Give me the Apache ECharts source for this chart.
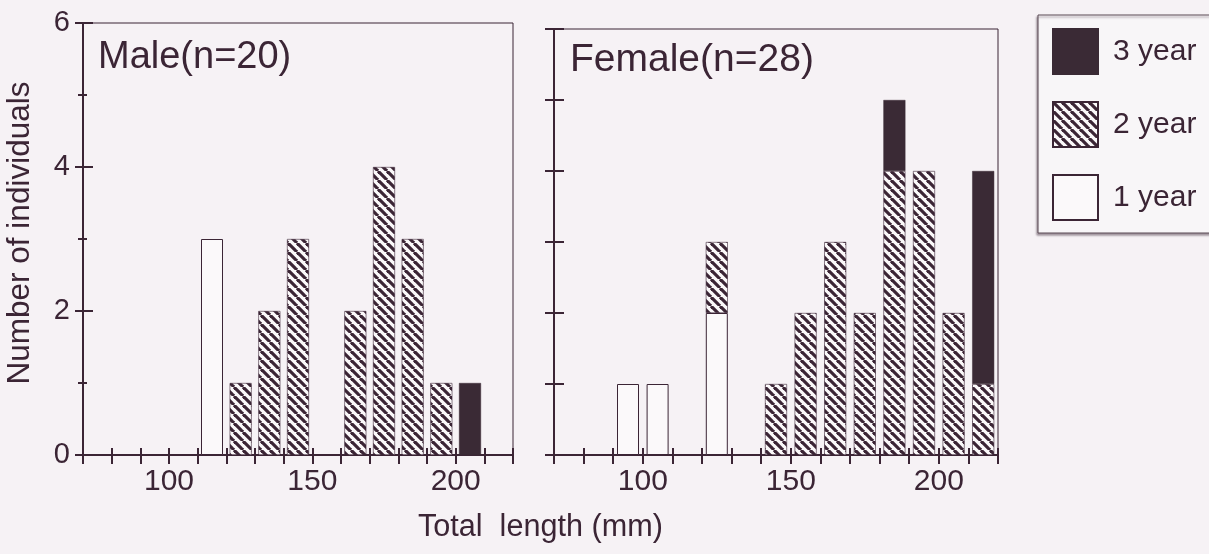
<!DOCTYPE html>
<html><head><meta charset="utf-8">
<script src="https://cdn.jsdelivr.net/npm/echarts@6/dist/echarts.min.js"></script>
<style>html,body{margin:0;padding:0;background:#f6f2f5}#c{width:1209px;height:554px}</style>
</head><body><div id="c"></div>
<script>
// ---- data ----
const binStarts = [70, 80, 90, 100, 110, 120, 130, 140, 150, 160, 170, 180, 190, 200, 210];
const binWidth = 10;
const xTickLabels = [100, 150, 200];
const yTickLabels = [0, 2, 4, 6];
const seriesNames = ['1 year', '2 year', '3 year'];
const legendOrder = ['3 year', '2 year', '1 year'];
const male1 = [0, 0, 0, 0, 3, 0, 0, 0, 0, 0, 0, 0, 0, 0, 0];
const male2 = [0, 0, 0, 0, 0, 1, 2, 3, 0, 2, 4, 3, 1, 0, 0];
const male3 = [0, 0, 0, 0, 0, 0, 0, 0, 0, 0, 0, 0, 0, 1, 0];
const female1 = [0, 0, 1, 1, 0, 2, 0, 0, 0, 0, 0, 0, 0, 0, 0];
const female2 = [0, 0, 0, 0, 0, 1, 0, 1, 2, 3, 2, 4, 4, 2, 1];
const female3 = [0, 0, 0, 0, 0, 0, 0, 0, 0, 0, 0, 1, 0, 0, 3];
const panelTitles = ['Male(n=20)', 'Female(n=28)'];
const xName = 'Total  length (mm)';
const yName = 'Number of individuals';

// ---- styles ----
const INK = '#3b2535';
const BG = '#f6f2f5';
const FONT = 'Liberation Sans, Arial, sans-serif';

function makeHatch() {
  const p = 9;
  const c = document.createElement('canvas');
  c.width = p; c.height = p;
  const ctx = c.getContext('2d');
  ctx.fillStyle = '#fbf9fa';
  ctx.fillRect(0, 0, p, p);
  ctx.strokeStyle = INK;
  ctx.lineWidth = 3.2;
  for (const x0 of [-p, 0, p]) {
    ctx.beginPath();
    ctx.moveTo(x0, 0);
    ctx.lineTo(x0 + p, p);
    ctx.stroke();
  }
  return c;
}
const hatch = makeHatch();

const styles = {
  '1 year': { color: '#fbf9fa', borderColor: INK, borderWidth: 1 },
  '2 year': { color: { image: hatch, repeat: 'repeat' }, borderColor: INK, borderWidth: 0.6 },
  '3 year': { color: '#3a2a35', borderColor: '#3a2a35', borderWidth: 0.5 }
};

const binLabels = binStarts.map(s => s + '-' + (s + binWidth));
function vals(arr) { return arr.map(v => v ? v : '-'); }

function xAxes(gi) {
  const base = {
    gridIndex: gi, type: 'value', min: binStarts[0], max: binStarts[binStarts.length - 1] + binWidth,
    interval: binWidth, position: 'bottom', splitLine: { show: false }
  };
  return [
    { // category axis that carries the bars (one band per bin)
      gridIndex: gi, type: 'category', data: binLabels, boundaryGap: true, position: 'bottom',
      axisLine: { show: false }, axisTick: { show: false }, axisLabel: { show: false }, splitLine: { show: false }
    },
    Object.assign({}, base, {
      axisLine: { show: true, lineStyle: { color: INK, width: 2 } },
      axisTick: { show: true, inside: false, length: 9, lineStyle: { color: INK, width: 2 } },
      axisLabel: {
        show: true, fontSize: 30, color: INK, fontFamily: FONT, margin: 12,
        formatter: v => xTickLabels.includes(v) ? String(v) : ''
      }
    }),
    Object.assign({}, base, {
      axisLine: { show: false },
      axisTick: { show: true, inside: true, length: 7, lineStyle: { color: INK, width: 2 } },
      axisLabel: { show: false }
    })
  ];
}

const option = {
  backgroundColor: BG,
  animation: false,
  textStyle: { fontFamily: FONT, color: INK },
  title: [
    { text: panelTitles[0], left: 98, top: 39, padding: 0, textStyle: { fontSize: 38, fontWeight: 'normal', color: INK, fontFamily: FONT } },
    { text: panelTitles[1], left: 570, top: 41, padding: 0, textStyle: { fontSize: 39, fontWeight: 'normal', color: INK, fontFamily: FONT } },
    { text: xName, left: 418, top: 512, padding: 0, textStyle: { fontSize: 30.6, fontWeight: 'normal', color: INK, fontFamily: FONT } }
  ],
  legend: {
    orient: 'vertical', left: 1038, top: 15,
    data: legendOrder,
    itemWidth: 45, itemHeight: 45, itemGap: 26,
    padding: [13, 60, 12, 14],
    backgroundColor: '#f8f6f8',
    borderColor: '#5a4a55', borderWidth: 1,
    shadowColor: 'rgba(60,40,55,0.45)', shadowOffsetX: -1, shadowOffsetY: 2, shadowBlur: 2,
    selectedMode: false,
    textStyle: { fontSize: 30, color: INK, fontFamily: FONT, padding: [0, 0, 0, 10] },
    icon: 'rect'
  },
  grid: [
    { left: 83, top: 23, width: 430, height: 432, show: true, borderColor: INK, borderWidth: 1, backgroundColor: 'transparent' },
    { left: 554, top: 29, width: 444, height: 426, show: true, borderColor: INK, borderWidth: 1, backgroundColor: 'transparent' }
  ],
  xAxis: xAxes(0).concat(xAxes(1)),
  yAxis: [
    {
      gridIndex: 0, type: 'value', min: 0, max: 6, interval: 2, position: 'left',
      splitLine: { show: false },
      axisLine: { show: true, lineStyle: { color: INK, width: 2 } },
      axisTick: { show: true, inside: false, length: 8, lineStyle: { color: INK, width: 2 } },
      minorTick: { show: true, splitNumber: 2, length: 5, lineStyle: { color: INK, width: 2 } },
      axisLabel: { show: true, fontSize: 29, color: INK, fontFamily: FONT, margin: 13,
        formatter: v => yTickLabels.includes(v) ? String(v) : '' },
      name: yName, nameLocation: 'middle', nameGap: 47, nameRotate: 90,
      nameTextStyle: { fontSize: 31.5, color: INK, fontFamily: FONT, padding: [0, 0, 0, 12] }
    },
    {
      gridIndex: 0, type: 'value', min: 0, max: 6, interval: 2, position: 'left',
      splitLine: { show: false }, axisLine: { show: false }, axisLabel: { show: false },
      axisTick: { show: true, inside: true, length: 10, lineStyle: { color: INK, width: 2 } },
      minorTick: { show: true, splitNumber: 2, length: 4, lineStyle: { color: INK, width: 2 } }
    },
    {
      gridIndex: 1, type: 'value', min: 0, max: 6, interval: 1, position: 'left',
      splitLine: { show: false },
      axisLine: { show: true, lineStyle: { color: INK, width: 2 } },
      axisTick: { show: true, inside: false, length: 9, lineStyle: { color: INK, width: 2 } },
      axisLabel: { show: false }
    },
    {
      gridIndex: 1, type: 'value', min: 0, max: 6, interval: 1, position: 'left',
      splitLine: { show: false }, axisLine: { show: false }, axisLabel: { show: false },
      axisTick: { show: true, inside: true, length: 10, lineStyle: { color: INK, width: 2 } }
    }
  ],
  series: []
};

const maleData = { '1 year': male1, '2 year': male2, '3 year': male3 };
const femaleData = { '1 year': female1, '2 year': female2, '3 year': female3 };
seriesNames.forEach(n => {
  option.series.push({
    name: n, type: 'bar', xAxisIndex: 0, yAxisIndex: 0, stack: 'male', barWidth: 22,
    itemStyle: styles[n], data: vals(maleData[n])
  });
});
seriesNames.forEach(n => {
  option.series.push({
    name: n, type: 'bar', xAxisIndex: 3, yAxisIndex: 2, stack: 'female', barWidth: 22,
    itemStyle: styles[n], data: vals(femaleData[n])
  });
});

const chart = echarts.init(document.getElementById('c'), null, { renderer: 'canvas' });
chart.setOption(option);
</script></body></html>
